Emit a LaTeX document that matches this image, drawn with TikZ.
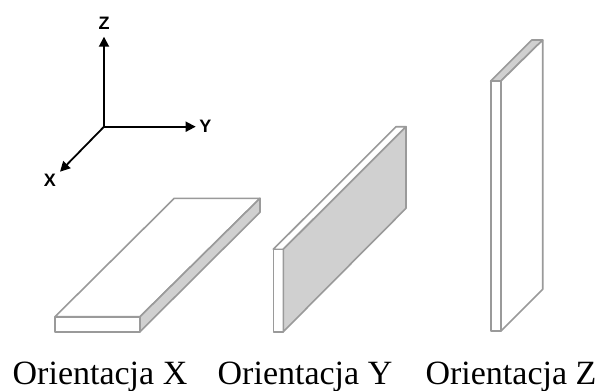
\documentclass[tikz,border=0pt]{standalone}
\usepackage{fontspec}
\setmainfont{Liberation Serif}
\setsansfont{Liberation Sans}
\usepackage{xcolor}
\usetikzlibrary{arrows.meta, positioning, calc}
\definecolor{platedge}{HTML}{9A9A9A}
\definecolor{platefill}{HTML}{D0D0D0}
\tikzset{
    face/.style={draw=platedge, line width=1.6pt, line join=round, fill=white},
    shaded/.style={face, fill=platefill},
    axis/.style={line width=1.8pt, -{Triangle[length=10pt,width=10pt]}, color=black},
    axislabel/.style={font=\sffamily\bfseries\fontsize{18}{18}\selectfont, inner sep=0pt},
    caption/.style={font=\fontsize{34}{34}\selectfont, inner sep=0pt, anchor=base}
}
\begin{document}
\begin{tikzpicture}[x=1pt, y=-1pt]
    \useasboundingbox (0,0) rectangle (600,391);

    % axes
    \coordinate (o) at (104,126.7);
    \node (z) [axislabel] at (104,23) {Z};
    \node (y) [axislabel] at (205.5,126.7) {Y};
    \node (x) [axislabel] at (50,180) {X};
    \draw [axis] (o) -- (z.south |- 0,36.7);
    \draw [axis] (o) -- (195.7,126.7);
    \draw [axis] (o) -- (60,171.7);

    % orientation X
    \draw [face] (55,316.7) -- (174.3,198.3) -- (260,198.3) -- (140,316.7) -- cycle;
    \draw [face] (55,316.7) -- (140,316.7) -- (140,331.7) -- (55,331.7) -- cycle;
    \draw [shaded] (140,316.7) -- (260,198.3) -- (260,212.3) -- (140,331.7) -- cycle;

    % orientation Y
    \draw [face] (273.3,249.3) -- (396,126.7) -- (406,126.7) -- (283.3,249.3) -- cycle;
    \draw [face] (273.3,249.3) -- (283.3,249.3) -- (283.3,331.7) -- (273.3,331.7) -- cycle;
    \draw [shaded] (283.3,249.3) -- (406,126.7) -- (406,208.3) -- (283.3,331.7) -- cycle;

    % orientation Z
    \draw [shaded] (490.7,81) -- (531.7,40) -- (542.7,40) -- (501,81) -- cycle;
    \draw [face] (490.7,81) -- (501,81) -- (501,331) -- (490.7,331) -- cycle;
    \draw [face] (501,81) -- (542.7,40) -- (542.7,289.3) -- (501,331) -- cycle;

    % captions
    \node (capx) [caption] at (100,384) {Orientacja X};
    \node (capy) [caption] at (305,384) {Orientacja Y};
    \node (capz) [caption] at (511,384) {Orientacja Z};
\end{tikzpicture}
\end{document}
